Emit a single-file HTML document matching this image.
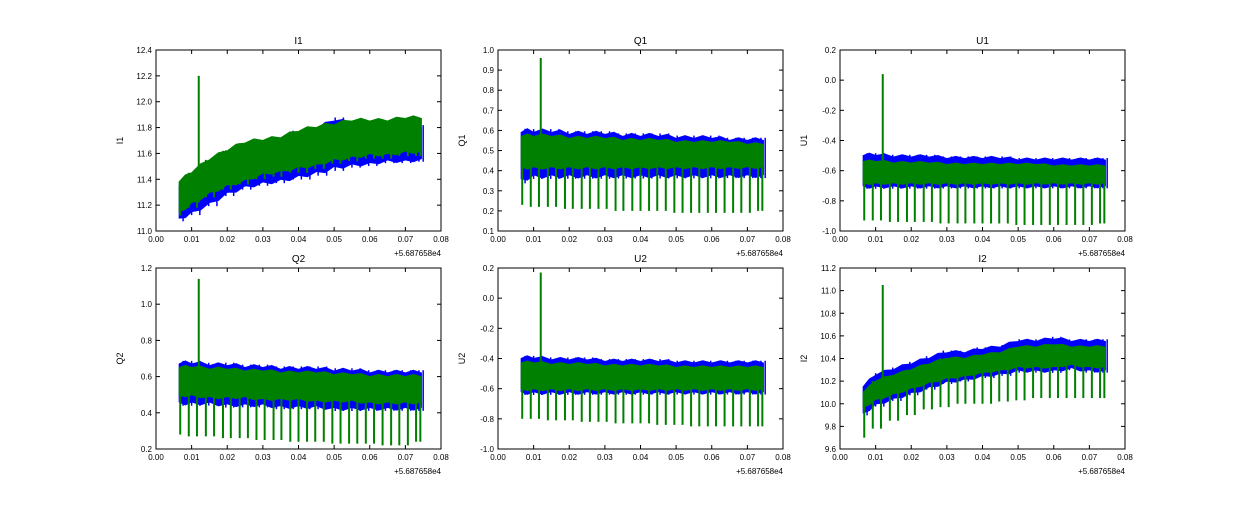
<!DOCTYPE html>
<html><head><meta charset="utf-8"><style>
body{margin:0;background:#fff;}
svg{font-family:"Liberation Sans",sans-serif;}
</style></head><body>
<svg id="fig" width="1250" height="500" xmlns="http://www.w3.org/2000/svg"></svg>
<script>
const knots=[0.0065,0.01,0.015,0.02,0.025,0.03,0.035,0.04,0.045,0.05,0.055,0.06,0.065,0.07,0.0745];
const dipX=[0.0068,0.0092,0.0115,0.014,0.0163,0.0188,0.021,0.0235,0.0258,0.0282,0.0305,0.033,0.0352,0.0377,0.04,0.0424,0.0447,0.0471,0.0495,0.0518,0.0542,0.0565,0.0589,0.0612,0.0636,0.066,0.0683,0.0707,0.073,0.0742];
const xTicks=[0,0.01,0.02,0.03,0.04,0.05,0.06,0.07,0.08];
const titles=["I1","Q1","U1","Q2","U2","I2"];
const yMin=[11.0,0.1,-1.0,0.2,-1.0,9.6];
const yMax=[12.4,1.0,0.2,1.2,0.2,11.2];
const yStep=[0.2,0.1,0.2,0.2,0.2,0.2];
const spikeY=[12.2,0.96,0.04,1.14,0.17,11.05];
const blueLo=[
[11.1,11.15,11.22,11.3,11.35,11.38,11.4,11.43,11.46,11.5,11.52,11.53,11.55,11.55,11.56],
[0.36,0.38,0.38,0.38,0.38,0.38,0.38,0.38,0.38,0.38,0.38,0.38,0.38,0.38,0.38],
[-0.7,-0.7,-0.7,-0.7,-0.7,-0.7,-0.7,-0.7,-0.7,-0.7,-0.7,-0.7,-0.7,-0.7,-0.7],
[0.46,0.46,0.46,0.45,0.45,0.45,0.44,0.44,0.44,0.43,0.43,0.43,0.43,0.43,0.43],
[-0.62,-0.62,-0.62,-0.62,-0.62,-0.62,-0.62,-0.62,-0.62,-0.62,-0.62,-0.62,-0.62,-0.62,-0.62],
[9.92,10.0,10.05,10.1,10.15,10.2,10.22,10.25,10.27,10.3,10.3,10.3,10.32,10.3,10.3]];
const blueHi=[
[11.35,11.42,11.5,11.6,11.65,11.68,11.7,11.75,11.78,11.85,11.82,11.8,11.8,11.8,11.8],
[0.59,0.59,0.59,0.58,0.58,0.58,0.57,0.57,0.57,0.56,0.56,0.56,0.55,0.55,0.55],
[-0.5,-0.5,-0.51,-0.51,-0.51,-0.52,-0.52,-0.52,-0.52,-0.53,-0.53,-0.53,-0.53,-0.53,-0.53],
[0.67,0.67,0.66,0.66,0.65,0.65,0.64,0.64,0.64,0.63,0.63,0.62,0.62,0.62,0.62],
[-0.4,-0.4,-0.41,-0.41,-0.41,-0.42,-0.42,-0.42,-0.42,-0.43,-0.43,-0.43,-0.43,-0.43,-0.43],
[10.15,10.25,10.3,10.35,10.4,10.45,10.45,10.48,10.5,10.55,10.55,10.57,10.55,10.55,10.55]];
const greenLo=[
[11.15,11.22,11.3,11.36,11.4,11.45,11.47,11.5,11.52,11.56,11.58,11.6,11.6,11.62,11.62],
[0.42,0.42,0.42,0.42,0.42,0.42,0.42,0.42,0.42,0.42,0.42,0.42,0.42,0.42,0.42],
[-0.68,-0.68,-0.68,-0.68,-0.68,-0.68,-0.68,-0.68,-0.68,-0.68,-0.68,-0.68,-0.68,-0.68,-0.68],
[0.5,0.5,0.49,0.49,0.49,0.48,0.48,0.48,0.47,0.47,0.47,0.46,0.46,0.46,0.46],
[-0.6,-0.6,-0.6,-0.6,-0.6,-0.6,-0.6,-0.6,-0.6,-0.6,-0.6,-0.6,-0.6,-0.6,-0.6],
[9.97,10.04,10.09,10.14,10.19,10.23,10.25,10.28,10.3,10.33,10.33,10.33,10.35,10.33,10.33]];
const greenHi=[
[11.38,11.45,11.55,11.62,11.68,11.7,11.72,11.77,11.8,11.82,11.85,11.85,11.85,11.87,11.87],
[0.57,0.57,0.57,0.56,0.56,0.56,0.55,0.55,0.55,0.54,0.54,0.54,0.54,0.53,0.53],
[-0.54,-0.54,-0.55,-0.55,-0.55,-0.56,-0.56,-0.56,-0.56,-0.56,-0.56,-0.57,-0.57,-0.57,-0.57],
[0.65,0.65,0.64,0.64,0.63,0.63,0.62,0.62,0.62,0.61,0.61,0.6,0.6,0.6,0.6],
[-0.43,-0.43,-0.44,-0.44,-0.44,-0.45,-0.45,-0.45,-0.45,-0.46,-0.46,-0.46,-0.46,-0.46,-0.46],
[10.1,10.2,10.25,10.3,10.35,10.4,10.4,10.43,10.45,10.5,10.5,10.52,10.5,10.5,10.5]];
const greenDip=[
[11.12,11.18,11.26,11.32,11.36,11.4,11.42,11.45,11.48,11.52,11.54,11.56,11.56,11.58,11.58],
[0.23,0.22,0.22,0.21,0.21,0.21,0.2,0.2,0.2,0.19,0.19,0.19,0.19,0.19,0.2],
[-0.93,-0.93,-0.94,-0.94,-0.94,-0.95,-0.95,-0.95,-0.95,-0.96,-0.96,-0.96,-0.96,-0.96,-0.95],
[0.28,0.27,0.27,0.26,0.26,0.25,0.25,0.24,0.24,0.23,0.23,0.23,0.22,0.22,0.24],
[-0.8,-0.8,-0.81,-0.81,-0.82,-0.82,-0.83,-0.83,-0.84,-0.84,-0.85,-0.85,-0.85,-0.85,-0.85],
[9.7,9.78,9.85,9.9,9.95,9.97,10.0,10.0,10.02,10.03,10.05,10.05,10.05,10.05,10.05]];

const NS="http://www.w3.org/2000/svg";
const svg=document.getElementById('fig');
function mk(tag,attrs,parent){const e=document.createElementNS(NS,tag);for(const k in attrs)e.setAttribute(k,attrs[k]);(parent||svg).appendChild(e);return e;}
const cols=[156,498,840],rows=[50,268],W=285,H=181;
function nearest(x){let b=0;for(let i=0;i<knots.length;i++)if(Math.abs(knots[i]-x)<Math.abs(knots[b]-x))b=i;return b;}
for(let p=0;p<6;p++){
  const L=cols[p%3],T=rows[Math.floor(p/3)];
  const g=mk('g',{});
  
  
  const sx=v=>L+v/0.08*W, sy=v=>T+H-(v-yMin[p])/(yMax[p]-yMin[p])*H;
  function band(lo,hi,color,name){
    let pts=[];
    for(let i=0;i<knots.length;i++){pts.push(sx(knots[i])+','+sy(hi[p][i]));
      if(i<knots.length-1){const xm=(knots[i]+knots[i+1])/2;pts.push(sx(xm)+','+sy((hi[p][i]+hi[p][i+1])/2+ (hi[p][i]-lo[p][i])*0.08));}}
    for(let i=knots.length-1;i>=0;i--){pts.push(sx(knots[i])+','+sy(lo[p][i]));
      if(i>0){const xm=(knots[i]+knots[i-1])/2;pts.push(sx(xm)+','+sy((lo[p][i]+lo[p][i-1])/2-(hi[p][i]-lo[p][i])*0.08));}}
    const e=mk('polygon',{points:pts.join(' '),fill:color,stroke:color,'stroke-width':1},g);
    
    
  }
  band(blueLo,blueHi,'#0000ff','blue-series-band');
  for(const x of dipX){const i=nearest(x);
    const e=mk('line',{x1:sx(x+0.0008),x2:sx(x+0.0008),y1:sy(blueLo[p][i]-(blueHi[p][i]-blueLo[p][i])*0.1),y2:sy(blueHi[p][i]+(blueHi[p][i]-blueLo[p][i])*0.08),stroke:'#0000ff','stroke-width':1.5},g);
    
    }
  band(greenLo,greenHi,'#008000','green-series-band');
  for(const x of dipX){const i=nearest(x);
    const e=mk('line',{x1:sx(x),x2:sx(x),y1:sy(greenDip[p][i]),y2:sy(greenHi[p][i]),stroke:'#008000','stroke-width':2},g);
    
    }
  const sp=mk('line',{x1:sx(0.012),x2:sx(0.012),y1:sy(greenLo[p][1]),y2:sy(spikeY[p]),stroke:'#008000','stroke-width':2},g);
  
  
  const fr=mk('rect',{x:L,y:T,width:W,height:H,fill:'none',stroke:'#000','stroke-width':1},g);
  
  
  for(const t of xTicks){const x=sx(t);
    mk('line',{x1:x,x2:x,y1:T+H,y2:T+H-4,stroke:'#000'},g);mk('line',{x1:x,x2:x,y1:T,y2:T+4,stroke:'#000'},g);
    const tx=mk('text',{x:x,y:T+H+11,'font-size':8,'text-anchor':'middle'},g);tx.textContent=t.toFixed(2);
    
    }
  const n=Math.round((yMax[p]-yMin[p])/yStep[p]);
  for(let k=0;k<=n;k++){const v=yMin[p]+k*yStep[p],y=sy(v);
    mk('line',{x1:L,x2:L+4,y1:y,y2:y,stroke:'#000'},g);mk('line',{x1:L+W,x2:L+W-4,y1:y,y2:y,stroke:'#000'},g);
    const tx=mk('text',{x:L-4,y:y+3,'font-size':8,'text-anchor':'end'},g);tx.textContent=v.toFixed(1);
    
    }
  const off=mk('text',{x:L+W,y:T+H+25,'font-size':8,'text-anchor':'end'},g);off.textContent='+5.687658e4';
  
  
  const ti=mk('text',{x:L+W/2,y:T-6,'font-size':10,'text-anchor':'middle'},g);ti.textContent=titles[p];
  
  
  const yl=mk('text',{x:0,y:0,'font-size':9,'text-anchor':'middle',transform:`translate(${L-33},${T+H/2}) rotate(-90)`},g);yl.textContent=titles[p];
  
  
}
</script>
</body></html>
